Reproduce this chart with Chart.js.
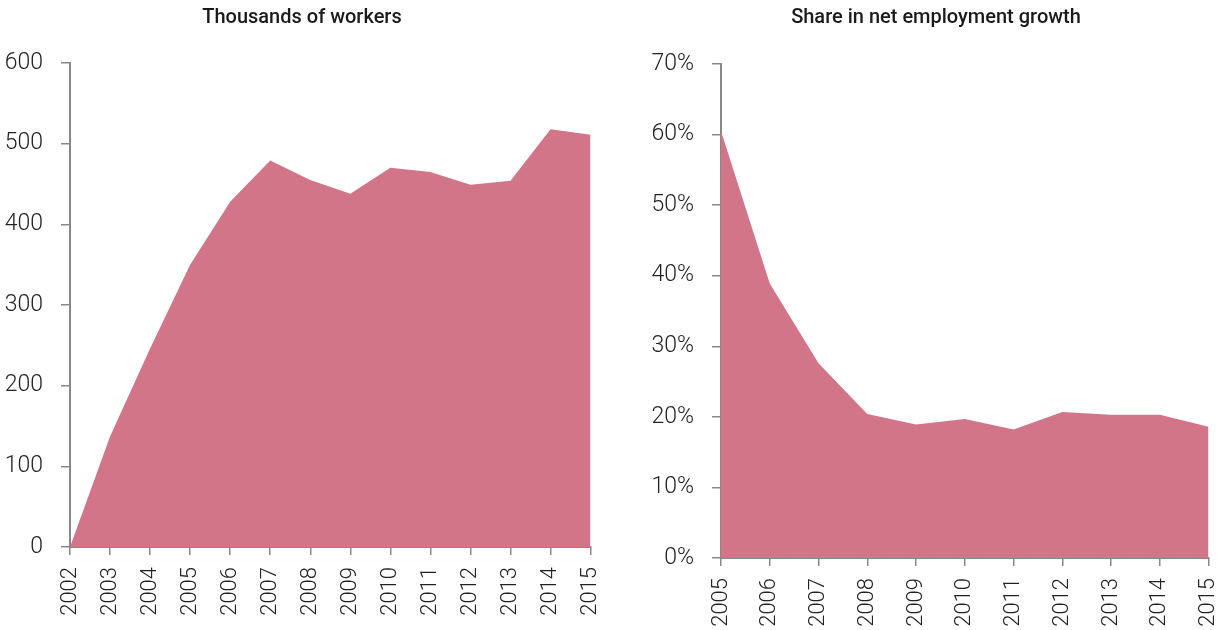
<!DOCTYPE html>
<html>
<head>
<meta charset="utf-8">
<script src="https://cdn.jsdelivr.net/npm/chart.js@4/dist/chart.umd.min.js"></script>
<style>
  body { margin: 0; background: #fff; width: 1223px; height: 630px; overflow: hidden; position: relative; }
  canvas { position: absolute; top: 0; }
  #workers-chart { left: -25px; }
  #share-chart { left: 625px; }
</style>
</head>
<body>
<canvas id="workers-chart" width="654" height="630"></canvas>
<canvas id="share-chart" width="622" height="630"></canvas>
<script>
// data
const workerYears = ['2002', '2003', '2004', '2005', '2006', '2007', '2008', '2009', '2010', '2011', '2012', '2013', '2014', '2015'];
const workerValues = [0, 137, 246, 350, 428, 479, 455, 438, 470, 465, 449, 454, 518, 511];

const shareYears = ['2005', '2006', '2007', '2008', '2009', '2010', '2011', '2012', '2013', '2014', '2015'];
const shareValues = [60.5, 38.9, 27.6, 20.4, 18.9, 19.7, 18.2, 20.7, 20.3, 20.3, 18.6];

const fillColor = '#D37588';
const axisColor = '#888888';
const yTickFont = { family: "Roboto, 'Liberation Sans', sans-serif", size: 23, weight: '300' };
const xTickFont = { family: "Roboto, 'Liberation Sans', sans-serif", size: 22, weight: '300' };
const titleFont = { family: "Roboto, 'Liberation Sans', sans-serif", size: 20, weight: '500' };

// build one area chart; axis sizes are fixed so the plot lands where the reference has it
function makeAreaChart(canvas, title, labels, values, opts) {
    return new Chart(canvas.getContext('2d'), {
        type: 'line',
        data: {
            labels: labels,
            datasets: [{
                data: values,
                fill: 'origin',
                backgroundColor: fillColor,
                borderWidth: 0,
                pointRadius: 0,
                tension: 0
            }]
        },
        options: {
            responsive: false,
            animation: false,
            layout: { padding: 0 },
            plugins: {
                legend: { display: false },
                tooltip: { enabled: false },
                title: {
                    display: true,
                    text: title,
                    color: '#1a1a1a',
                    font: titleFont,
                    padding: { top: 6, bottom: opts.titleGap }
                }
            },
            scales: {
                x: {
                    offset: false,
                    afterFit: scale => { scale.height = opts.xHeight; },
                    border: { display: true, color: axisColor, width: 2 },
                    grid: { display: true, drawOnChartArea: false, drawTicks: true, tickLength: 8, color: axisColor, lineWidth: 1.5 },
                    ticks: { color: '#222', font: xTickFont, minRotation: 90, maxRotation: 90, padding: 12, autoSkip: false }
                },
                y: {
                    min: 0,
                    max: opts.max,
                    afterFit: scale => { scale.width = opts.yWidth; },
                    border: { display: true, color: axisColor, width: 2 },
                    grid: { display: true, drawOnChartArea: false, drawTicks: true, tickLength: 9, color: axisColor, lineWidth: 1.5 },
                    ticks: { color: '#222', font: yTickFont, stepSize: opts.step, padding: 18, callback: opts.format }
                }
            }
        }
    });
}

makeAreaChart(document.querySelector('#workers-chart'), 'Thousands of workers', workerYears, workerValues, {
    max: 600, step: 100, yWidth: 95, xHeight: 83, titleGap: 33,
    format: v => v
});

makeAreaChart(document.querySelector('#share-chart'), 'Share in net employment growth', shareYears, shareValues, {
    max: 70, step: 10, yWidth: 96, xHeight: 72, titleGap: 34,
    format: v => v + '%'
});
</script>
</body>
</html>
